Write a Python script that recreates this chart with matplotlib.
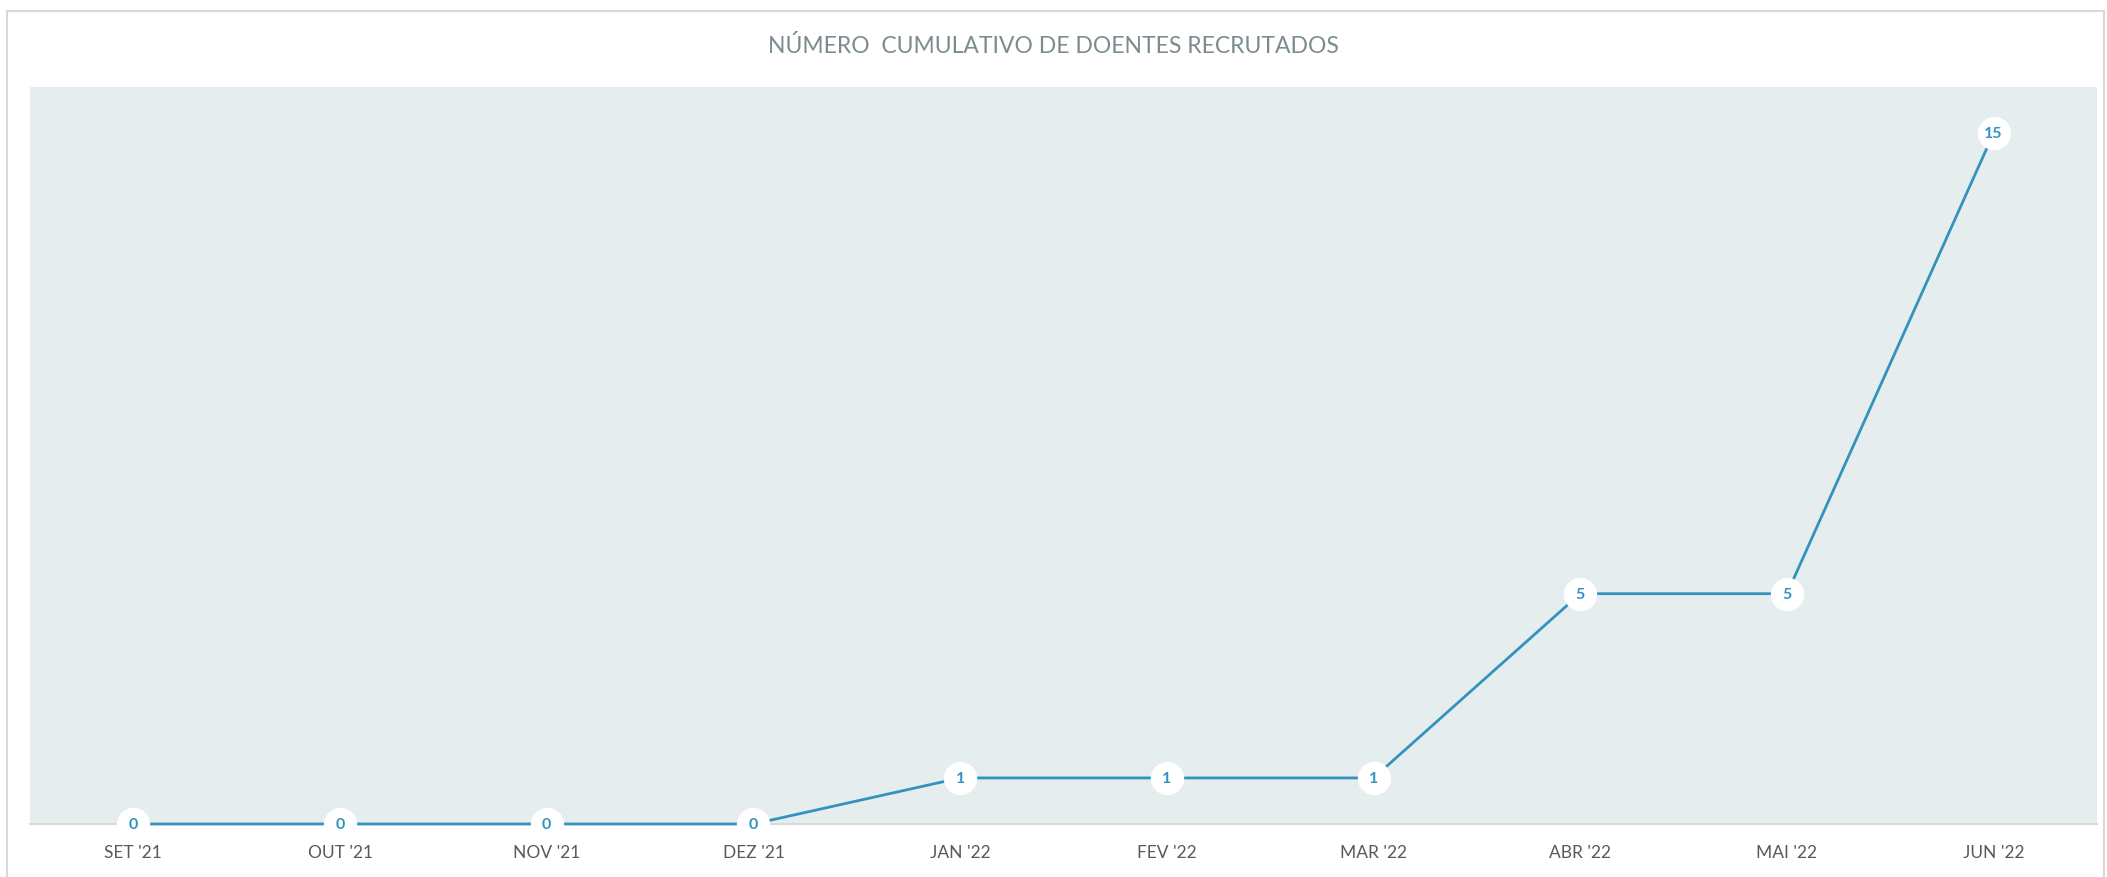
import matplotlib
matplotlib.use("Agg")
import matplotlib.pyplot as plt
from matplotlib.patches import Rectangle

categories = ["SET '21", "OUT '21", "NOV '21", "DEZ '21", "JAN '22", "FEV '22",
              "MAR '22", "ABR '22", "MAI '22", "JUN '22"]
values = [0, 0, 0, 0, 1, 1, 1, 5, 5, 15]
title = "NÚMERO  CUMULATIVO DE DOENTES RECRUTADOS"

plt.rcParams['font.family'] = ['Lato', 'DejaVu Sans']

W, H = 2107, 877
fig = plt.figure(figsize=(W / 100, H / 100), dpi=100)
fig.patch.set_facecolor('white')

# outer border
fig.add_artist(Rectangle((7 / W, -0.05), (2104 - 7) / W, 1.05 - 11 / H,
                         transform=fig.transFigure, fill=False,
                         edgecolor='#D9D9D9', linewidth=1.5))

ax = fig.add_axes([30 / W, (H - 824) / H, 2067 / W, (824 - 87) / H])
ax.set_facecolor('#E5EDEF')
for s in ['top', 'left', 'right']:
    ax.spines[s].set_visible(False)
ax.spines['bottom'].set_color('#D9D9D9')
ax.spines['bottom'].set_linewidth(1.5)

x = list(range(len(categories)))
line_color = '#3493BD'
ax.plot(x, values, color=line_color, linewidth=2.0, zorder=3, clip_on=False)
ax.plot(x, values, linestyle='none', marker='o', markersize=23,
        markerfacecolor='white', markeredgecolor='white', zorder=4, clip_on=False)
for xi, v in zip(x, values):
    ax.annotate(str(v), (xi, v), xytext=(0, -1), textcoords='offset points',
                ha='center', va='center', fontsize=11.5,
                fontweight='bold', color=line_color, zorder=5,
                annotation_clip=False)

ax.set_xlim(-0.5, len(categories) - 0.5)
ax.set_ylim(0, 16)
ax.set_yticks([])
ax.set_xticks(x)
ax.set_xticklabels(categories, fontsize=12.5, color='#595959')
ax.tick_params(axis='x', length=0, pad=15)

fig.text(0.5, 1 - 46 / H, title, ha='center', va='center', fontsize=16.5,
         color='#7A8C8E')

fig.savefig('out.png', dpi=100, facecolor='white')
